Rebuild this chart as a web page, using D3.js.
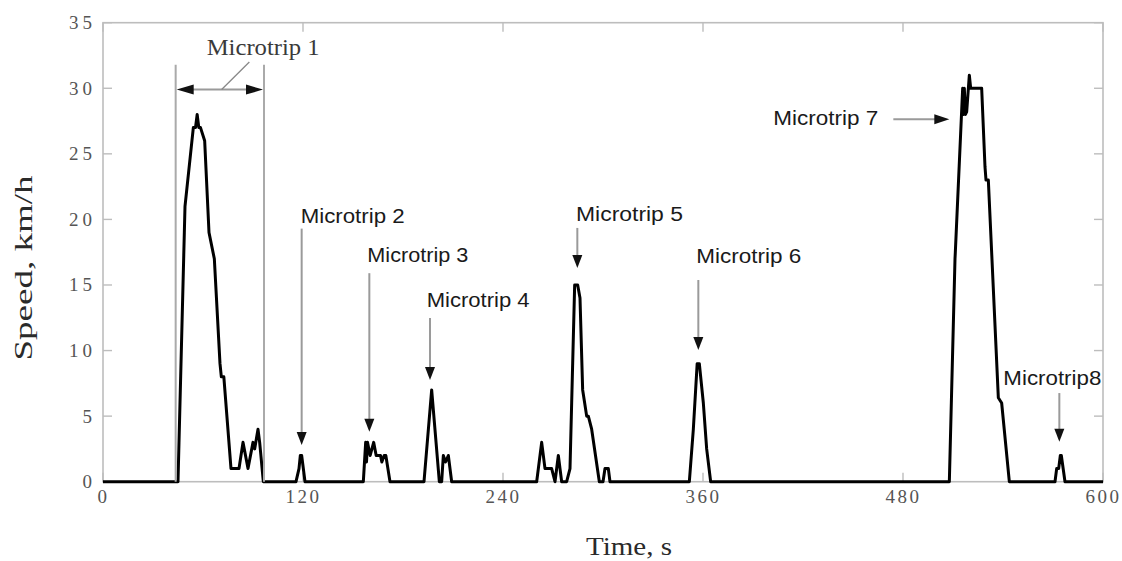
<!DOCTYPE html>
<html>
<head>
<meta charset="utf-8">
<script src="https://cdn.jsdelivr.net/npm/d3@7"></script>
<style>
  html, body { margin: 0; padding: 0; background: #fff; }
  svg { display: block; }
</style>
</head>
<body>
<svg id="chart" width="1122" height="561"></svg>
<script>
// Speed trace of the driving cycle: time (s) and speed (km/h)
const timeSec = [
  0, 45, 48.8, 49.2, 54.2, 55.5, 56.5, 57.5, 58.5, 61, 63.6, 66.8, 70.2, 71, 72.5, 76.8,
  81.6, 84, 87, 90, 91, 93, 94, 96.2,
  115.8, 117.6, 118.4, 119.2, 121.2,
  156.2, 157.6, 158.1, 158.7, 160.3, 162.4, 163.9, 166.5, 167.3, 168.7, 169.7, 172.2,
  192.6, 197.2, 201.8, 203.2, 204.2, 205.5, 207.2, 209.2,
  260.2, 263.2, 265.2, 269.2, 271.2, 273.2, 275.2, 278.2, 280.2, 283, 284.8, 286.2,
  287.8, 289, 290.2, 291.2, 293.2, 297.8, 300, 301.2, 303.2, 304.2,
  351.8, 354.2, 356.5, 357.8, 360.2, 362.2, 364.6,
  507.8, 511.2, 511.4, 515.8, 516.3, 516.8, 517.4, 518.2, 519.8, 520.6, 527.2, 529.2,
  529.8, 531.2, 537.2, 539.2, 543.8,
  571.2, 572.2, 573.4, 574.4, 575, 577.2, 600
];
const speedKmh = [
  0, 0, 19, 21, 27, 27, 28, 27, 27, 26, 19, 17, 9, 8, 8, 1,
  1, 3, 1, 3, 2.5, 4, 3, 0,
  0, 1, 2, 2, 0,
  0, 3, 1.5, 3, 2, 3, 2, 2, 1.5, 2, 2, 0,
  0, 7, 0, 0, 2, 1.5, 2, 0,
  0, 3, 1, 1, 0, 2, 0, 0, 1, 15, 15, 14,
  7, 6, 5, 5, 4, 0, 0, 1, 1, 0,
  0, 4, 9, 9, 6, 2.5, 0,
  0, 17, 17.5, 30, 28, 30, 28, 28.2, 31, 30, 30, 24,
  23, 23, 6.4, 6, 0,
  0, 1, 1, 2, 2, 0, 0
];

const xTicks = [0, 120, 240, 360, 480, 600];
const yTicks = [0, 5, 10, 15, 20, 25, 30, 35];
const xTitle = "Time, s";
const yTitle = "Speed, km/h";

// Arrow callouts: label, label anchor (s, km/h), arrow shaft (s) from top to tip (km/h)
const calloutText  = ["Microtrip 2", "Microtrip 3", "Microtrip 4", "Microtrip 5", "Microtrip 6", "Microtrip8"];
const calloutTextT = [118.6, 158.6, 194.2, 283.8, 356.0, 540.2];
const calloutTextV = [19.73, 16.78, 13.34, 19.88, 16.65, 7.37];
const calloutWidth = [104, 101, 103, 107, 105, 98];
const calloutArrT  = [119.2, 159.8, 196.2, 284.6, 357.2, 573.8];
const calloutTopV  = [19.3, 15.9, 12.48, 19.35, 15.38, 6.76];
const calloutTipV  = [2.8, 3.81, 7.75, 16.3, 10.04, 3.05];

// Microtrip 7 has a horizontal pointer
const trip7 = { text: "Microtrip 7", t: 402.2, v: 27.2, w: 105, fromT: 474.2, tipT: 507.8, arrV: 27.63 };
// Microtrip 1 is bracketed by two markers with a double-headed arrow
const trip1 = { text: "Microtrip 1", t: 62.2, v: 32.5, w: 113, startT: 43.6, endT: 96.6, topV: 31.8, arrV: 29.9,
                leadFromT: 71.2, leadToT: 87.8, leadToV: 32.0 };

const svg = d3.select("#chart");
const x = d3.scaleLinear().domain([0, 600]).range([103, 1103]);
const y = d3.scaleLinear().domain([0, 35]).range([481.7, 22.7]);

const frameColor = "#bdbdbd";
const arrowColor = "#9a9a9a";

// plot frame
svg.append("rect")
  .attr("x", x(0)).attr("y", y(35))
  .attr("width", x(600) - x(0)).attr("height", y(0) - y(35))
  .attr("fill", "none").attr("stroke", frameColor).attr("stroke-width", 1.6);

// inward ticks on all four sides
const tickLen = 9;
const gTicks = svg.append("g").attr("stroke", frameColor).attr("stroke-width", 1.4);
xTicks.forEach(t => {
  gTicks.append("line").attr("x1", x(t)).attr("x2", x(t)).attr("y1", y(0)).attr("y2", y(0) - tickLen);
  gTicks.append("line").attr("x1", x(t)).attr("x2", x(t)).attr("y1", y(35)).attr("y2", y(35) + tickLen);
});
yTicks.forEach(v => {
  gTicks.append("line").attr("x1", x(0)).attr("x2", x(0) + tickLen).attr("y1", y(v)).attr("y2", y(v));
  gTicks.append("line").attr("x1", x(600)).attr("x2", x(600) - tickLen).attr("y1", y(v)).attr("y2", y(v));
});

// tick labels
const serif = "'Liberation Serif', 'DejaVu Serif', serif";
const sans = "'Liberation Sans', Arial, sans-serif";
svg.append("g").selectAll("text").data(xTicks).join("text")
  .attr("x", d => x(d) + 0.5).attr("y", 503)
  .attr("text-anchor", "middle")
  .attr("font-family", serif).attr("font-size", 19)
  .attr("letter-spacing", 2.5)
  .attr("fill", "#555")
  .text(d => d);
svg.append("g").selectAll("text").data(yTicks).join("text")
  .attr("x", 96).attr("y", d => y(d) + 6.5)
  .attr("text-anchor", "end")
  .attr("font-family", serif).attr("font-size", 19)
  .attr("letter-spacing", 4)
  .attr("fill", "#555")
  .text(d => d);

// axis titles
svg.append("text")
  .attr("x", 629 - 43).attr("y", 555)
  .attr("font-family", serif).attr("font-size", 25)
  .attr("textLength", 86).attr("lengthAdjust", "spacingAndGlyphs")
  .attr("fill", "#2a2a2a").text(xTitle);
svg.append("text")
  .attr("transform", "translate(32,268) rotate(-90)")
  .attr("x", -92.5).attr("y", 0)
  .attr("font-family", serif).attr("font-size", 26)
  .attr("textLength", 185).attr("lengthAdjust", "spacingAndGlyphs")
  .attr("fill", "#2a2a2a").text(yTitle);

// speed trace
const pts = timeSec.map((t, i) => [t, speedKmh[i]]);
svg.append("path")
  .datum(pts)
  .attr("d", d3.line().x(d => x(d[0])).y(d => y(d[1])))
  .attr("fill", "none").attr("stroke", "#000")
  .attr("stroke-width", 3).attr("stroke-linejoin", "round");

// arrowhead helper: tip at (px, py), pointing in direction (dx, dy)
function head(g, px, py, dx, dy, len = 13, half = 5) {
  const bx = px - dx * len, by = py - dy * len;
  const nx = -dy * half, ny = dx * half;
  g.append("path")
    .attr("d", `M${px},${py}L${bx + nx},${by + ny}L${bx - nx},${by - ny}Z`)
    .attr("fill", "#111");
}

const gAnn = svg.append("g");

// vertical callouts
calloutText.forEach((txt, i) => {
  gAnn.append("line")
    .attr("x1", x(calloutArrT[i])).attr("x2", x(calloutArrT[i]))
    .attr("y1", y(calloutTopV[i])).attr("y2", y(calloutTipV[i]) - 8)
    .attr("stroke", arrowColor).attr("stroke-width", 2);
  head(gAnn, x(calloutArrT[i]), y(calloutTipV[i]), 0, 1);
  gAnn.append("text")
    .attr("x", x(calloutTextT[i])).attr("y", y(calloutTextV[i]))
    .attr("font-family", sans).attr("font-size", 20)
    .attr("textLength", calloutWidth[i]).attr("lengthAdjust", "spacingAndGlyphs")
    .attr("fill", "#1a1a1a").text(txt);
});

// Microtrip 7
gAnn.append("line")
  .attr("x1", x(trip7.fromT)).attr("x2", x(trip7.tipT) - 8)
  .attr("y1", y(trip7.arrV)).attr("y2", y(trip7.arrV))
  .attr("stroke", arrowColor).attr("stroke-width", 2);
head(gAnn, x(trip7.tipT), y(trip7.arrV), 1, 0, 15, 5);
gAnn.append("text")
  .attr("x", x(trip7.t)).attr("y", y(trip7.v))
  .attr("font-family", sans).attr("font-size", 20)
  .attr("textLength", trip7.w).attr("lengthAdjust", "spacingAndGlyphs")
  .attr("fill", "#1a1a1a").text(trip7.text);

// Microtrip 1 bracket
[trip1.startT, trip1.endT].forEach(t => {
  gAnn.append("line")
    .attr("x1", x(t)).attr("x2", x(t))
    .attr("y1", y(trip1.topV)).attr("y2", y(0))
    .attr("stroke", "#aaa").attr("stroke-width", 2);
});
gAnn.append("line")
  .attr("x1", x(trip1.startT) + 10).attr("x2", x(trip1.endT) - 10)
  .attr("y1", y(trip1.arrV)).attr("y2", y(trip1.arrV))
  .attr("stroke", arrowColor).attr("stroke-width", 2);
head(gAnn, x(trip1.startT) + 1, y(trip1.arrV), -1, 0, 17, 5);
head(gAnn, x(trip1.endT) - 1, y(trip1.arrV), 1, 0, 17, 5);
gAnn.append("line")
  .attr("x1", x(trip1.leadFromT)).attr("y1", y(trip1.arrV))
  .attr("x2", x(trip1.leadToT)).attr("y2", y(trip1.leadToV))
  .attr("stroke", "#888").attr("stroke-width", 1.3);
gAnn.append("text")
  .attr("x", x(trip1.t)).attr("y", y(trip1.v))
  .attr("font-family", serif).attr("font-size", 24)
  .attr("textLength", trip1.w).attr("lengthAdjust", "spacingAndGlyphs")
  .attr("fill", "#3a3a3a").text(trip1.text);
</script>
</body>
</html>
